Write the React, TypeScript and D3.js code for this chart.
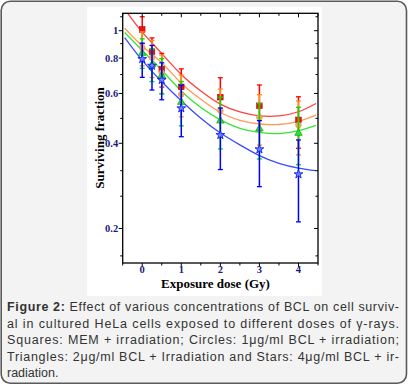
import React from 'react';
import * as d3 from 'd3';

// ---- data ----
const doses = [0, 0.25, 0.5, 1, 2, 3, 4];
const squaresMean = [1.01, 0.843, 0.732, 0.633, 0.582, 0.543, 0.484];
const squaresErr = [0.11, 0.1, 0.1, 0.1, 0.1, 0.1, 0.1];
const circlesMean = [0.871, 0.803, 0.71, 0.596, 0.522, 0.494, 0.464];
const circlesErr = [0.12, 0.12, 0.11, 0.1, 0.1, 0.1, 0.1];
const trianglesMean = [0.836, 0.761, 0.697, 0.561, 0.482, 0.452, 0.436];
const trianglesErr = [0.1, 0.1, 0.1, 0.1, 0.1, 0.1, 0.1];
const starsMean = [0.794, 0.752, 0.67, 0.532, 0.428, 0.381, 0.311];
const starsErr = [0.11, 0.135, 0.1, 0.11, 0.105, 0.1, 0.1];

const fitDoses = [-0.45, 0, 0.5, 1, 1.5, 2, 2.5, 3, 3.5, 4, 4.45];
const fitSquares = [1.19, 0.988, 0.83, 0.7, 0.612, 0.55, 0.516, 0.5, 0.5, 0.517, 0.553];
const fitCircles = [1.02, 0.883, 0.77, 0.652, 0.572, 0.514, 0.482, 0.468, 0.466, 0.478, 0.503];
const fitTriangles = [0.985, 0.852, 0.725, 0.612, 0.535, 0.484, 0.452, 0.437, 0.433, 0.443, 0.463];
const fitStars = [0.945, 0.785, 0.66, 0.565, 0.49, 0.435, 0.395, 0.362, 0.34, 0.327, 0.32];

const xMajor = [0, 1, 2, 3, 4];
const xMinor = [-0.5, 0.5, 1.5, 2.5, 3.5, 4.5];
const yMajor = [0.2, 0.4, 0.6, 0.8, 1];
const yMinor = [1.12, 0.9, 0.7, 0.49, 0.32, 0.26, 0.16];

const captionLines = [
  'Effect of various concentrations of BCL on cell surviv-',
  'al in cultured HeLa cells exposed to different doses of γ-rays.',
  'Squares: MEM + irradiation; Circles: 1μg/ml BCL + irradiation;',
  'Triangles: 2μg/ml BCL + Irradiation and Stars: 4μg/ml BCL + ir-',
  'radiation.',
];

// ---- layout ----
const W = 408, H = 385;
const PL = 122.7, PR = 318, PT = 13.3, PB = 263;

const x = d3.scaleLinear().domain([-0.5, 4.5]).range([PL, PR]);
const y = d3.scaleLog().domain([0.151, 1.152]).range([PB, PT]);

type Series = {
  mean: number[]; err: number[]; fit: number[];
  bar: string; curve: string; shape: string; fill: string; stroke: string;
};
const series: Series[] = [
  { mean: squaresMean, err: squaresErr, fit: fitSquares, bar: '#ff0000', curve: '#ff4040', shape: 'square', fill: '#ee1010', stroke: '#c00000' },
  { mean: circlesMean, err: circlesErr, fit: fitCircles, bar: '#ff8c10', curve: '#ff9a55', shape: 'circle', fill: '#f8a468', stroke: '#f08a40' },
  { mean: trianglesMean, err: trianglesErr, fit: fitTriangles, bar: '#00dd00', curve: '#33e633', shape: 'triangle', fill: '#33dd33', stroke: '#10b010' },
  { mean: starsMean, err: starsErr, fit: fitStars, bar: '#0000ff', curve: '#3a4cff', shape: 'star', fill: '#7080ff', stroke: '#0010ee' },
];

const line = d3.line<number>()
  .x((_, i) => x(fitDoses[i]))
  .y((d) => y(d))
  .curve(d3.curveNatural);

function Marker({ s, cx, cy }: { s: Series; cx: number; cy: number }) {
  if (s.shape === 'square') {
    return <rect x={cx - 2.8} y={cy - 2.8} width={5.6} height={5.6} fill={s.fill} stroke={s.stroke} strokeWidth={0.6} />;
  }
  if (s.shape === 'circle') {
    return <circle cx={cx} cy={cy} r={2.9} fill={s.fill} stroke={s.stroke} strokeWidth={0.6} />;
  }
  const type = s.shape === 'triangle' ? d3.symbolTriangle : d3.symbolStar;
  const size = s.shape === 'triangle' ? 24 : 24;
  const p = d3.symbol().type(type).size(size)() as string;
  return <path d={p} transform={`translate(${cx},${cy + (s.shape === 'triangle' ? 0.5 : 0)})`} fill={s.fill} stroke={s.stroke} strokeWidth={0.8} />;
}

export default function App() {
  const serif = '"Liberation Serif", "Times New Roman", serif';
  const sans = '"Liberation Sans", Arial, sans-serif';
  const navy = '#1a1a7e';
  const capY0 = 311;
  const capDy = 16.6;
  return (
    <svg width={W} height={H} style={{ position: 'absolute', left: 0, top: 0 }} xmlns="http://www.w3.org/2000/svg">
      <rect x={0} y={0} width={W} height={H} fill="#ffffff" />
      <rect x={1.2} y={1.2} width={405.3} height={382} rx={9} ry={9} fill="#f2f3f2" stroke="#5a5a5a" strokeWidth={1.6} />
      <rect x={87} y={7} width={235} height={289} fill="#ffffff" />
      <defs>
        <clipPath id="plotclip">
          <rect x={PL} y={PT} width={PR - PL} height={PB - PT} />
        </clipPath>
      </defs>

      {/* fit curves */}
      <g clipPath="url(#plotclip)">
        {series.map((s, i) => (
          <path key={i} d={line(s.fit) as string} fill="none" stroke={s.curve} strokeWidth={1.3} />
        ))}
      </g>

      {/* error bars and markers */}
      {series.map((s, si) => (
        <g key={si}>
          {doses.map((d, i) => {
            const cx = x(d);
            const yt = y(s.mean[i] + s.err[i]);
            const yb = y(s.mean[i] - s.err[i]);
            return (
              <g key={i}>
                <line x1={cx} x2={cx} y1={yt} y2={yb} stroke={s.bar} strokeWidth={1.5} />
                <line x1={cx - 2.5} x2={cx + 2.5} y1={yt} y2={yt} stroke={s.bar} strokeWidth={1.3} />
                <line x1={cx - 2.5} x2={cx + 2.5} y1={yb} y2={yb} stroke={s.bar} strokeWidth={1.3} />
                <Marker s={s} cx={cx} cy={y(s.mean[i])} />
              </g>
            );
          })}
        </g>
      ))}

      {/* frame */}
      <rect x={PL} y={PT} width={PR - PL} height={PB - PT} fill="none" stroke="#000" strokeWidth={1.3} />

      {/* y ticks: left outward, right inward */}
      {yMajor.map((v) => (
        <g key={'ym' + v}>
          <line x1={PL - 4} x2={PL} y1={y(v)} y2={y(v)} stroke="#000" strokeWidth={1} />
          <line x1={PR - 4} x2={PR} y1={y(v)} y2={y(v)} stroke="#000" strokeWidth={1} />
          <text x={PL - 4.5} y={y(v) + 3.6} textAnchor="end" fontFamily={serif} fontWeight="bold" fontSize={10.5} fill={navy}>{String(v)}</text>
        </g>
      ))}
      {yMinor.map((v) => (
        <g key={'yn' + v}>
          <line x1={PL - 2.5} x2={PL} y1={y(v)} y2={y(v)} stroke="#000" strokeWidth={1} />
          <line x1={PR - 2.5} x2={PR} y1={y(v)} y2={y(v)} stroke="#000" strokeWidth={1} />
        </g>
      ))}

      {/* x ticks: bottom outward, top inward */}
      {xMajor.map((v) => (
        <g key={'xm' + v}>
          <line x1={x(v)} x2={x(v)} y1={PB} y2={PB + 4} stroke="#000" strokeWidth={1} />
          <line x1={x(v)} x2={x(v)} y1={PT} y2={PT + 4} stroke="#000" strokeWidth={1} />
          <text x={x(v)} y={273.2} textAnchor="middle" fontFamily={serif} fontWeight="bold" fontSize={10.5} fill={navy}>{String(v)}</text>
        </g>
      ))}
      {xMinor.map((v) => (
        <g key={'xn' + v}>
          <line x1={x(v)} x2={x(v)} y1={PB} y2={PB + 2.5} stroke="#000" strokeWidth={1} />
          <line x1={x(v)} x2={x(v)} y1={PT} y2={PT + 2.5} stroke="#000" strokeWidth={1} />
        </g>
      ))}

      {/* axis titles */}
      <text x={215.5} y={288} textAnchor="middle" fontFamily={serif} fontWeight="bold" fontSize={13} fill="#000">Exposure dose (Gy)</text>
      <text transform="translate(104,138) rotate(-90)" textAnchor="middle" fontFamily={serif} fontWeight="bold" fontSize={13} fill="#000">Surviving fraction</text>

      {/* caption */}
      {captionLines.map((t, i) => {
        const yy = capY0 + i * capDy;
        const last = i === captionLines.length - 1;
        if (i === 0) {
          return (
            <text key={i} x={7} y={yy} fontFamily={sans} fontSize={12.5} fill="#333" textLength={392} lengthAdjust="spacing">
              <tspan fontWeight="bold">Figure 2:</tspan> {t}
            </text>
          );
        }
        return (
          <text key={i} x={7} y={yy} fontFamily={sans} fontSize={12.5} fill="#333" {...(last ? {} : { textLength: 392, lengthAdjust: 'spacing' })}>{t}</text>
        );
      })}
    </svg>
  );
}
